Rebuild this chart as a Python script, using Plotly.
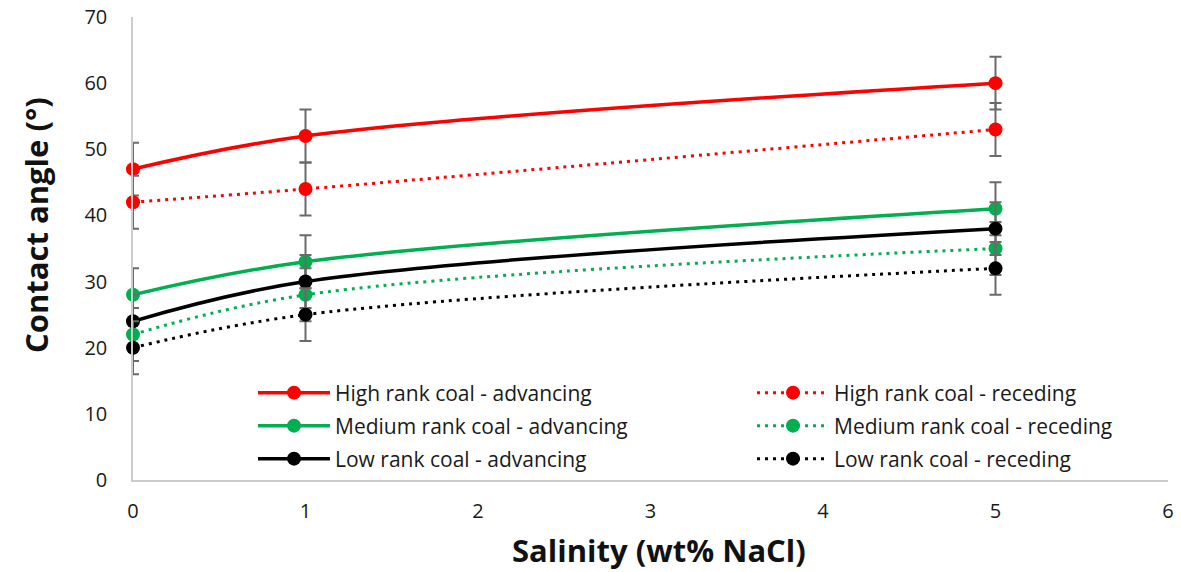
import plotly.graph_objects as go

salinity = [0, 1, 5]
high_adv = [47, 52, 60]
high_rec = [42, 44, 53]
med_adv = [28, 33, 41]
med_rec = [22, 28, 35]
low_adv = [24, 30, 38]
low_rec = [20, 25, 32]
err = [4, 4, 4]

names = [
    "High rank coal - advancing", "High rank coal - receding",
    "Medium rank coal - advancing", "Medium rank coal - receding",
    "Low rank coal - advancing", "Low rank coal - receding",
]
series = [high_adv, high_rec, med_adv, med_rec, low_adv, low_rec]
colors = ["#FF0000", "#FF0000", "#00B050", "#00B050", "#000000", "#000000"]

FONT = "Open Sans"
L, R, T, B = 133, 13, 17, 92
W, HH = 1181, 572
PW = W - L - R
PH = HH - T - B

def xpaper(px):
    return (px - L) / PW

def ypaper(px):
    return (HH - B - px) / PH

fig = go.Figure()
legend_layouts = {}
row_y = [393, 426, 459]
col_x = [258, 757]
for i, (nm, ys, c) in enumerate(zip(names, series, colors)):
    receding = i % 2 == 1
    lg = "legend" if i == 0 else f"legend{i + 1}"
    fig.add_trace(go.Scatter(
        x=salinity, y=ys, name=nm, mode="lines+markers",
        line=dict(color=c, width=3 if receding else 3.5,
                  shape="spline", smoothing=1,
                  dash="3px,5px" if receding else "solid"),
        marker=dict(color=c, size=14, symbol="circle"),
        error_y=dict(type="data", array=err, visible=True,
                     color="#6a6a6a", thickness=2, width=6),
        cliponaxis=False,
        legend=lg,
    ))
    legend_layouts[lg] = dict(
        x=xpaper(col_x[i % 2] - 5), y=ypaper(row_y[i // 2]),
        xanchor="left", yanchor="middle", orientation="v",
        bgcolor="rgba(0,0,0,0)", itemwidth=72,
        font=dict(family=FONT, size=21, color="#1a1a1a"),
    )

fig.update_layout(
    width=W, height=HH,
    margin=dict(l=L, r=R, t=T, b=B),
    paper_bgcolor="white", plot_bgcolor="white",
    showlegend=True,
    font=dict(family=FONT, size=20, color="#1a1a1a"),
    **legend_layouts,
)
fig.update_xaxes(range=[0, 6], dtick=1, tick0=0, showgrid=False, zeroline=False,
                 showline=True, linecolor="#cccccc", linewidth=1.5,
                 ticks="", ticklabelstandoff=12, automargin=False,
                 tickfont=dict(family=FONT, size=20, color="#1a1a1a"))
fig.update_yaxes(range=[0, 70], dtick=10, tick0=0, showgrid=False, zeroline=False,
                 showline=True, linecolor="#cccccc", linewidth=1.5,
                 ticks="", ticklabelstandoff=20, automargin=False,
                 tickfont=dict(family=FONT, size=20, color="#1a1a1a"))

fig.add_annotation(text="<b>Salinity (wt% NaCl)</b>", xref="paper", yref="paper",
                   x=xpaper(659), y=ypaper(550), showarrow=False,
                   xanchor="center", yanchor="middle",
                   font=dict(family=FONT, size=31, color="#111111"))
fig.add_annotation(text="<b>Contact angle (°)</b>", xref="paper", yref="paper",
                   x=xpaper(36), y=ypaper(225), showarrow=False,
                   textangle=-90, xanchor="center", yanchor="middle",
                   font=dict(family=FONT, size=31, color="#111111"))

fig.write_html("out.html", config={"displayModeBar": False},
               post_script="document.body.style.margin='0';document.body.style.overflow='hidden';")
